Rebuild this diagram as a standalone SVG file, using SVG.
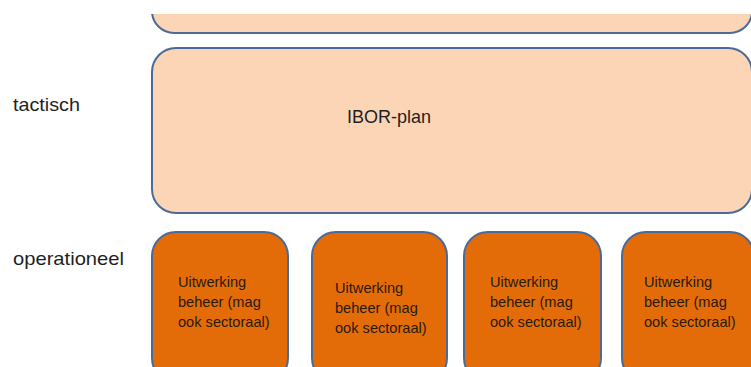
<svg xmlns="http://www.w3.org/2000/svg" width="751" height="367" viewBox="0 0 751 367">
<style>
.light{fill:#FBD5B5;stroke:#4A6B95;stroke-width:2}
.dark{fill:#E36C09;stroke:#4A6B95;stroke-width:2}
text{font-family:"Liberation Sans",Arial,sans-serif;fill:#1f1f1f}
.lbl{font-size:19px}
.box{font-size:14.6px;fill:#2a1a0a}
</style>
<defs>
<clipPath id="topclip"><rect x="0" y="14" width="751" height="353"/></clipPath>
</defs>
<rect width="751" height="367" fill="#ffffff"/>
<g id="labels">
<text class="lbl" x="13" y="111" textLength="67" lengthAdjust="spacingAndGlyphs">tactisch</text>
<text class="lbl" x="13" y="265" textLength="111" lengthAdjust="spacingAndGlyphs">operationeel</text>
</g>
<g id="strategic" clip-path="url(#topclip)">
<rect class="light" x="152" y="-60" width="600" height="93" rx="22" ry="22"/>
</g>
<g id="ibor">
<rect class="light" x="152" y="48" width="600" height="165" rx="24" ry="24"/>
<text x="347" y="123" style="font-size:18.5px" textLength="84" lengthAdjust="spacingAndGlyphs">IBOR-plan</text>
</g>
<g id="op1">
<rect class="dark" x="152" y="232" width="136" height="150" rx="24" ry="24"/>
<text class="box" x="178" y="287">Uitwerking</text>
<text class="box" x="178" y="307">beheer (mag</text>
<text class="box" x="178" y="327">ook sectoraal)</text>
</g>
<g id="op2">
<rect class="dark" x="312" y="232" width="135" height="150" rx="24" ry="24"/>
<text class="box" x="335" y="293">Uitwerking</text>
<text class="box" x="335" y="313">beheer (mag</text>
<text class="box" x="335" y="333">ook sectoraal)</text>
</g>
<g id="op3">
<rect class="dark" x="464" y="232" width="137" height="150" rx="24" ry="24"/>
<text class="box" x="490" y="287">Uitwerking</text>
<text class="box" x="490" y="307">beheer (mag</text>
<text class="box" x="490" y="327">ook sectoraal)</text>
</g>
<g id="op4">
<rect class="dark" x="622" y="232" width="132" height="150" rx="24" ry="24"/>
<text class="box" x="644" y="287">Uitwerking</text>
<text class="box" x="644" y="307">beheer (mag</text>
<text class="box" x="644" y="327">ook sectoraal)</text>
</g>
<g id="connectors"/>
</svg>
